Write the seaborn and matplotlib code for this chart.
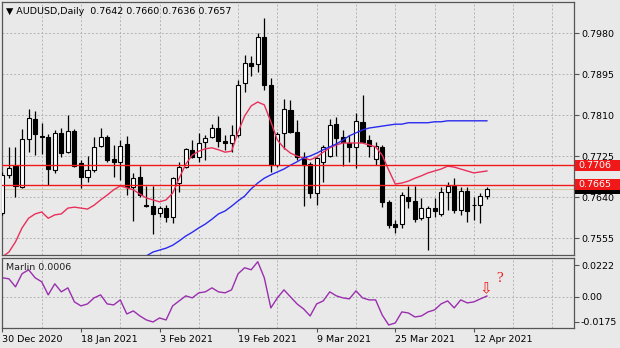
import numpy as np
import pandas as pd
import matplotlib
matplotlib.use("Agg")
import matplotlib.pyplot as plt
import matplotlib.transforms as mtransforms
from matplotlib.patches import Rectangle
from matplotlib.ticker import MultipleLocator
import seaborn as sns

# ---- AUDUSD daily bars (30 Dec 2020 .. 14 Apr 2021) ----
opens = [0.7607, 0.7686, 0.7704, 0.7661, 0.7760, 0.7802, 0.7767, 0.7765, 0.7696, 0.7773,
         0.7733, 0.7777, 0.7711, 0.7682, 0.7696, 0.7746, 0.7765, 0.7719, 0.7713, 0.7750,
         0.7661, 0.7682, 0.7623, 0.7621, 0.7607, 0.7617, 0.7599, 0.7669, 0.7702, 0.7738,
         0.7723, 0.7754, 0.7765, 0.7783, 0.7756, 0.7752, 0.7769, 0.7877, 0.7918, 0.7916,
         0.7972, 0.7872, 0.7706, 0.7773, 0.7821, 0.7775, 0.7723, 0.7708, 0.7648, 0.7713,
         0.7725, 0.7791, 0.7765, 0.7752, 0.7744, 0.7796, 0.7758, 0.7719, 0.7744, 0.7630,
         0.7584, 0.7584, 0.7640, 0.7632, 0.7596, 0.7599, 0.7617, 0.7605, 0.7650, 0.7663,
         0.7613, 0.7652, 0.7624, 0.7623, 0.7642]
highs = [0.7692, 0.7744, 0.7744, 0.7781, 0.7823, 0.7818, 0.7794, 0.7771, 0.7779, 0.7783,
         0.7810, 0.7781, 0.7717, 0.7725, 0.7765, 0.7783, 0.7769, 0.7748, 0.7758, 0.7767,
         0.7690, 0.7704, 0.7663, 0.7663, 0.7621, 0.7623, 0.7682, 0.7713, 0.7742, 0.7758,
         0.7773, 0.7769, 0.7791, 0.7808, 0.7769, 0.7789, 0.7883, 0.7935, 0.7933, 0.7980,
         0.8011, 0.7887, 0.7775, 0.7843, 0.7841, 0.7800, 0.7733, 0.7713, 0.7723, 0.7748,
         0.7802, 0.7806, 0.7779, 0.7769, 0.7814, 0.7852, 0.7769, 0.7754, 0.7748, 0.7634,
         0.7592, 0.7650, 0.7663, 0.7663, 0.7638, 0.7621, 0.7638, 0.7661, 0.7671, 0.7679,
         0.7661, 0.7661, 0.7640, 0.7648, 0.7660]
lows = [0.7603, 0.7679, 0.7640, 0.7659, 0.7733, 0.7727, 0.7729, 0.7665, 0.7690, 0.7723,
        0.7731, 0.7702, 0.7659, 0.7671, 0.7692, 0.7744, 0.7713, 0.7682, 0.7675, 0.7644,
        0.7590, 0.7640, 0.7619, 0.7563, 0.7599, 0.7588, 0.7586, 0.7650, 0.7700, 0.7721,
        0.7713, 0.7717, 0.7762, 0.7744, 0.7738, 0.7733, 0.7765, 0.7858, 0.7891, 0.7899,
        0.7862, 0.7692, 0.7702, 0.7740, 0.7773, 0.7717, 0.7621, 0.7638, 0.7623, 0.7671,
        0.7723, 0.7725, 0.7704, 0.7713, 0.7700, 0.7752, 0.7723, 0.7706, 0.7619, 0.7576,
        0.7565, 0.7576, 0.7617, 0.7588, 0.7592, 0.7530, 0.7599, 0.7601, 0.7613, 0.7607,
        0.7603, 0.7588, 0.7592, 0.7586, 0.7636]
closes = [0.7686, 0.7700, 0.7663, 0.7760, 0.7804, 0.7771, 0.7765, 0.7698, 0.7773, 0.7731,
          0.7777, 0.7704, 0.7682, 0.7696, 0.7744, 0.7765, 0.7717, 0.7713, 0.7746, 0.7661,
          0.7679, 0.7644, 0.7621, 0.7605, 0.7617, 0.7599, 0.7679, 0.7702, 0.7740, 0.7723,
          0.7752, 0.7762, 0.7783, 0.7756, 0.7752, 0.7769, 0.7872, 0.7918, 0.7912, 0.7972,
          0.7872, 0.7706, 0.7771, 0.7823, 0.7775, 0.7723, 0.7706, 0.7648, 0.7721, 0.7744,
          0.7789, 0.7762, 0.7754, 0.7744, 0.7798, 0.7754, 0.7746, 0.7746, 0.7630, 0.7582,
          0.7578, 0.7644, 0.7632, 0.7594, 0.7617, 0.7617, 0.7611, 0.7650, 0.7663, 0.7613,
          0.7652, 0.7611, 0.7623, 0.7642, 0.7657]

# fast moving average (red), all bars
ma_fast = [0.7516, 0.7526, 0.7547, 0.7576, 0.7596, 0.7605, 0.7609, 0.7596, 0.7603, 0.7605,
           0.7617, 0.7619, 0.7617, 0.7615, 0.7623, 0.7634, 0.7644, 0.7655, 0.7663, 0.7659,
           0.7655, 0.7646, 0.7638, 0.7634, 0.7630, 0.7634, 0.7648, 0.7679, 0.7708, 0.7727,
           0.7735, 0.7740, 0.7742, 0.7738, 0.7733, 0.7735, 0.7775, 0.7808, 0.7829, 0.7837,
           0.7831, 0.7796, 0.7758, 0.7742, 0.7731, 0.7725, 0.7721, 0.7717, 0.7723, 0.7733,
           0.7742, 0.7748, 0.7752, 0.7752, 0.7752, 0.7752, 0.7748, 0.7744, 0.7727, 0.7696,
           0.7667, 0.7669, 0.7673, 0.7679, 0.7684, 0.7690, 0.7694, 0.7698, 0.7704, 0.7702,
           0.7698, 0.7694, 0.7690, 0.7692, 0.7694]

# slow moving average (blue), from bar 22 on
ma_slow_start = 22
ma_slow = [0.7518, 0.7526, 0.7530, 0.7534, 0.7540, 0.7549, 0.7559, 0.7567, 0.7576, 0.7584,
           0.7594, 0.7605, 0.7611, 0.7621, 0.7632, 0.7642, 0.7657, 0.7669, 0.7679, 0.7686,
           0.7692, 0.7698, 0.7706, 0.7713, 0.7721, 0.7725, 0.7731, 0.7738, 0.7744, 0.7750,
           0.7758, 0.7767, 0.7773, 0.7779, 0.7783, 0.7785, 0.7787, 0.7789, 0.7791, 0.7791,
           0.7794, 0.7794, 0.7794, 0.7794, 0.7796, 0.7796, 0.7798, 0.7798, 0.7798, 0.7798,
           0.7798, 0.7798, 0.7798]

# Marlin oscillator (lower panel)
marlin = [0.0133, 0.0126, 0.0070, 0.0161, 0.0189, 0.0133, 0.0105, 0.0014, 0.0091, 0.0035,
          0.0063, -0.0035, -0.0063, -0.0049, -0.0007, 0.0014, -0.0049, -0.0056, -0.0021, -0.0119,
          -0.0098, -0.0133, -0.0161, -0.0175, -0.0147, -0.0161, -0.0063, -0.0028, 0.0007, -0.0007,
          0.0028, 0.0035, 0.0063, 0.0035, 0.0028, 0.0049, 0.0161, 0.0203, 0.0189, 0.0245,
          0.0133, -0.0077, -0.0007, 0.0049, 0.0000, -0.0049, -0.0084, -0.0133, -0.0049, -0.0028,
          0.0035, 0.0007, -0.0007, -0.0014, 0.0042, -0.0007, -0.0021, -0.0021, -0.0126, -0.0196,
          -0.0182, -0.0105, -0.0112, -0.0140, -0.0133, -0.0105, -0.0091, -0.0049, -0.0028, -0.0077,
          -0.0021, -0.0042, -0.0035, -0.0014, 0.0006]

levels = [0.7706, 0.7665]        # horizontal levels
bid_price = 0.7657
price_ticks = [0.7980, 0.7895, 0.7810, 0.7725, 0.7640, 0.7555]
marlin_ticks = [0.0222, 0.0, -0.0175]
marlin_tick_labels = ["0.0222", "0.00", "-0.0175"]
date_labels = ["30 Dec 2020", "18 Jan 2021", "3 Feb 2021", "19 Feb 2021",
               "9 Mar 2021", "25 Mar 2021", "12 Apr 2021"]
date_label_step = 12

# ---- style ----
BG = "#e9e9e9"
FRAME = "#555555"
GRID = "#b4b4b4"
LEVEL_RED = "#f01818"
FS = 6.8
plt.rcParams["font.family"] = ["DejaVu Sans"]

n = len(closes)
bars = np.arange(n)
o = np.array(opens); h = np.array(highs); l = np.array(lows); c = np.array(closes)

W, H = 620, 348
fig = plt.figure(figsize=(W / 100, H / 100), dpi=100, facecolor=BG)
ax = fig.add_axes([2 / W, (H - 255) / H, 572 / W, 253 / H], facecolor=BG)
axm = fig.add_axes([2 / W, (H - 328) / H, 572 / W, 70 / H], facecolor=BG)

# ---- candles ----
ax.vlines(bars, l, h, color="black", linewidth=0.9, zorder=3)
up = c >= o
body_bottom = np.minimum(o, c)
body_h = np.maximum(np.abs(c - o), 0.00012)
ax.bar(bars, body_h, bottom=body_bottom, width=0.62,
       color=np.where(up, "white", "black"), edgecolor="black", linewidth=0.8, zorder=4)

# ---- moving averages ----
sns.lineplot(x=bars, y=ma_fast, ax=ax, color="#e8305a", linewidth=1.0, zorder=5, legend=False)
sns.lineplot(x=np.arange(ma_slow_start, ma_slow_start + len(ma_slow)), y=ma_slow, ax=ax,
             color="#2a2af0", linewidth=1.0, zorder=5, legend=False)

# ---- levels ----
ax.axhline(bid_price, color="#d6c9a8", linewidth=0.8, zorder=2)
for lv in levels:
    ax.axhline(lv, color=LEVEL_RED, linewidth=1.0, zorder=6)

ax.set_xlim(-0.06, 87.3)
ax.set_ylim(0.75198, 0.80443)
ax.yaxis.tick_right()
ax.set_yticks(price_ticks)
ax.set_yticklabels([f"{t:.4f}" for t in price_ticks])
ax.set_xticks([])
ax.xaxis.set_minor_locator(MultipleLocator(6))
ax.tick_params(axis="x", which="minor", length=0)
ax.tick_params(axis="y", direction="out", length=3.5, width=0.8, pad=1.5,
               labelsize=FS, color=FRAME)
ax.grid(True, which="major", axis="y", color=GRID, linestyle=(0, (2, 2)), linewidth=0.7)
ax.grid(True, which="minor", axis="x", color=GRID, linestyle=(0, (2, 2)), linewidth=0.7)
ax.set_axisbelow(True)
ax.set_xlabel(""); ax.set_ylabel("")
for s in ax.spines.values():
    s.set_color(FRAME); s.set_linewidth(0.9)

# price labels on the right scale: bid marker sits under the level tags
blend = mtransforms.blended_transform_factory(fig.transFigure, ax.transData)
box_h = 0.00228
ax.add_patch(Rectangle((575 / W, bid_price - box_h / 2), 45 / W, box_h, transform=blend,
                       facecolor="black", edgecolor="none", clip_on=False, zorder=20))
for lv in levels:
    ax.add_patch(Rectangle((575 / W, lv - box_h / 2), 45 / W, box_h, transform=blend,
                           facecolor=LEVEL_RED, edgecolor="none", clip_on=False, zorder=22))
    ax.text(578 / W, lv, f"{lv:.4f}", transform=blend, color="white", fontsize=FS,
            va="center", ha="left", clip_on=False, zorder=23)

# header
fig.text(6 / W, 1 - 11 / H,
         f"\u25bc AUDUSD,Daily  {opens[-1]:.4f} {highs[-1]:.4f} {lows[-1]:.4f} {closes[-1]:.4f}",
         fontsize=FS, va="center", ha="left", color="black")

# ---- Marlin panel ----
sns.lineplot(x=bars, y=marlin, ax=axm, color="#9a2fae", linewidth=1.0, legend=False)
axm.axhline(0.0, color=GRID, linestyle=(0, (2, 2)), linewidth=0.7, zorder=0)
axm.set_xlim(ax.get_xlim())
axm.set_ylim(-0.0217, 0.0271)
axm.yaxis.tick_right()
axm.set_yticks(marlin_ticks)
axm.set_yticklabels(marlin_tick_labels)
axm.set_xticks(np.arange(0, date_label_step * len(date_labels), date_label_step))
axm.set_xticklabels(date_labels, ha="left")
axm.xaxis.set_minor_locator(MultipleLocator(6))
axm.grid(True, which="minor", axis="x", color=GRID, linestyle=(0, (2, 2)), linewidth=0.7)
axm.tick_params(axis="x", which="minor", length=0)
axm.tick_params(axis="x", which="major", direction="out", length=3, width=0.8, pad=2,
                labelsize=FS, color=FRAME)
axm.tick_params(axis="y", direction="out", length=3.5, width=0.8, pad=1.5,
                labelsize=FS, color=FRAME)
axm.set_axisbelow(True)
axm.set_xlabel(""); axm.set_ylabel("")
for s in axm.spines.values():
    s.set_color(FRAME); s.set_linewidth(0.9)

axm.text(0.007, 0.87, f"Marlin {marlin[-1]:.4f}", transform=axm.transAxes,
         fontsize=FS, va="center", ha="left", color="#222222")
axm.text(73.8, 0.0058, "\u21e9", color=LEVEL_RED, fontsize=11, ha="center", va="center")
axm.text(75.9, 0.0125, "?", color=LEVEL_RED, fontsize=11, ha="center", va="center",
         family=["Liberation Serif", "DejaVu Serif"])

fig.savefig("out.png", dpi=100, facecolor=BG)
